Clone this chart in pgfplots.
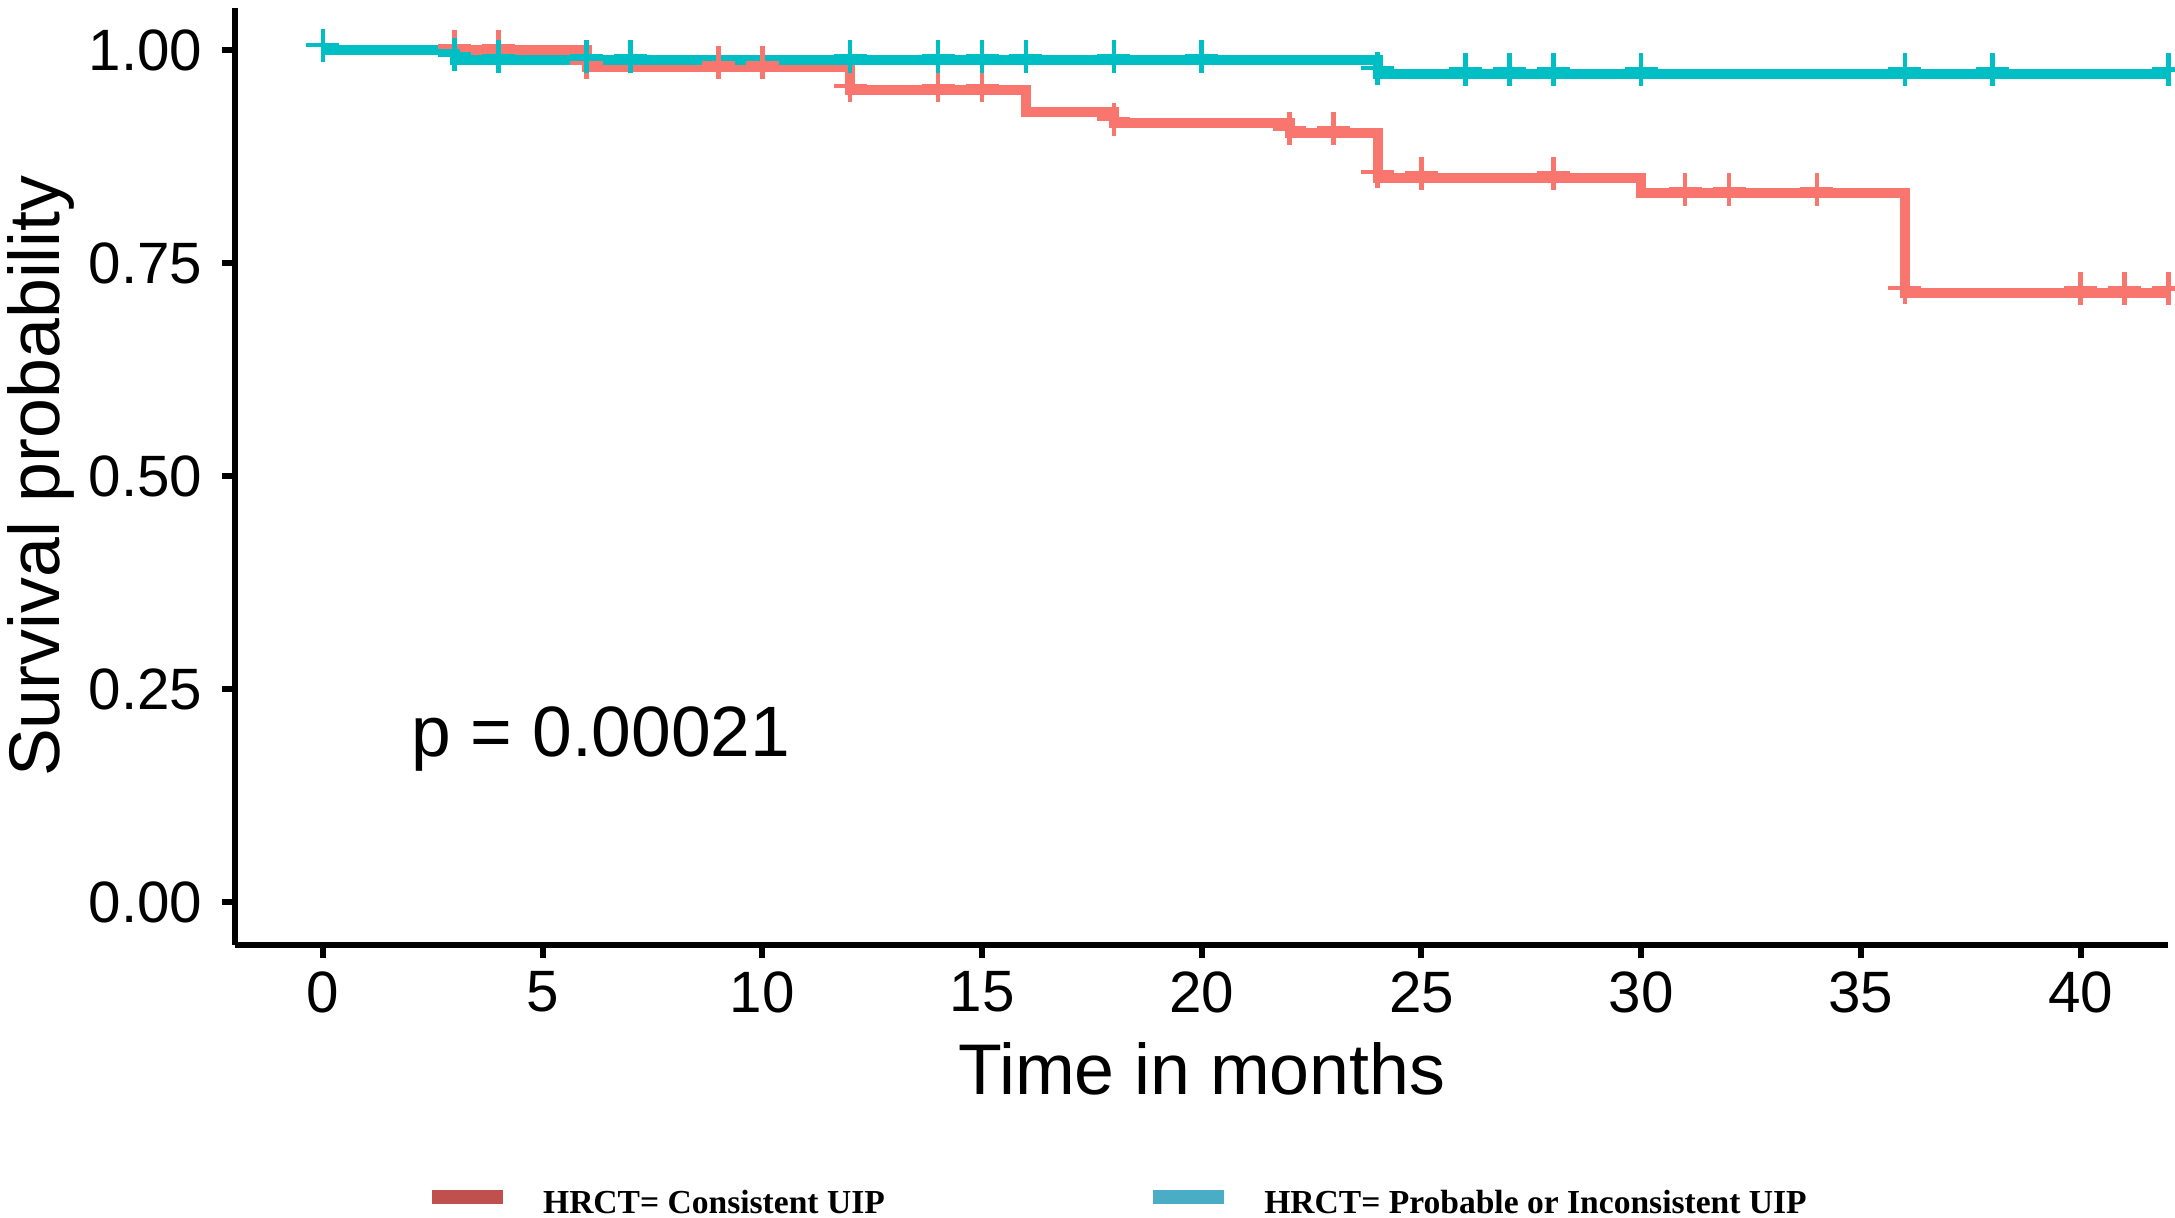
\documentclass[border=0pt]{standalone}
\usepackage{fontspec}
\setmainfont{Liberation Sans}
\newfontfamily\legendfont{Liberation Serif}
\usepackage{pgfplots}
\pgfplotsset{compat=1.18}

\definecolor{kmred}{HTML}{F8766D}
\definecolor{kmcyan}{HTML}{00BFC4}
\definecolor{keyred}{HTML}{C0504D}
\definecolor{keyblue}{HTML}{4BACC6}

\begin{document}
\begin{tikzpicture}
\begin{axis}[
    scale only axis,
    width=193.35mm, height=93.7mm,
    xmin=-2, xmax=42,
    ymin=-0.05, ymax=1.05,
    axis x line=bottom, axis y line=left,
    axis line style={-, line width=1.7pt, black},
    xtick={0,5,...,40},
    ytick={0,0.25,0.5,0.75,1},
    tick align=outside,
    major tick length=1.3mm,
    tick style={line width=1.7pt, black},
    /pgf/number format/assume math mode=true,
    yticklabel style={/pgf/number format/fixed, /pgf/number format/fixed zerofill,
        /pgf/number format/precision=2},
    ticklabel style={font=\fontsize{16.6}{20}\selectfont, inner sep=0pt},
    xticklabel style={anchor=north, yshift=-1.3mm},
    yticklabel style={anchor=east, xshift=-1.9mm},
    xlabel={Time in months},
    ylabel={Survival probability},
    label style={font=\fontsize{20.4}{24}\selectfont, inner sep=0pt},
    xlabel style={at={(axis description cs:0.5,-0.1605)}, anchor=base},
    ylabel style={at={(axis description cs:-0.1179,0.5)}, anchor=north},
    legend style={draw=none, fill=none, inner sep=0pt,
        at={(axis description cs:0.1014,-0.277)}, anchor=west,
        nodes={inner sep=0pt},
        font=\legendfont\bfseries\fontsize{9.55}{11}\selectfont,
        /tikz/every odd column/.append style={column sep=4mm},
        /tikz/every even column/.append style={column sep=26.8mm}},
    legend columns=2,
    legend cell align=left,
]

% HRCT = Consistent UIP
\addplot[kmred, line width=2.85pt, const plot, forget plot] coordinates {
    (0,1.000)(6,0.980)(12,0.953)(16,0.927)(18,0.914)(22,0.903)
    (24,0.850)(30,0.832)(36,0.715)(42,0.715)
};
\addplot[kmred, only marks, mark=+, mark size=1.65mm,
    mark options={line width=1.3pt}, forget plot] coordinates {
    (3,1.004)(4,1.004)(6,0.985)(9,0.985)(10,0.985)
    (12,0.958)(14,0.958)(15,0.958)(18,0.919)(22,0.908)(23,0.908)
    (24,0.857)(25,0.855)(28,0.855)(31,0.837)(32,0.837)(34,0.837)
    (36,0.721)(40,0.720)(41,0.720)(42,0.720)
};

% HRCT = Probable or Inconsistent UIP
\addplot[kmcyan, line width=2.85pt, const plot, forget plot] coordinates {
    (0,1.000)(3,0.988)(24,0.972)(42,0.972)
};
\addplot[kmcyan, only marks, mark=+, mark size=1.65mm,
    mark options={line width=1.3pt}, forget plot] coordinates {
    (0,1.006)(3,0.995)(4,0.993)(6,0.993)(7,0.993)(12,0.993)(14,0.993)
    (15,0.993)(16,0.993)(18,0.993)(20,0.993)
    (24,0.979)(26,0.977)(27,0.977)(28,0.977)(30,0.977)(36,0.977)
    (38,0.977)(42,0.977)
};

\addlegendimage{legend image code/.code={\fill[keyred] (0mm,0.1mm) rectangle (7mm,1.4mm);}}
\addlegendentry{HRCT= Consistent UIP}
\addlegendimage{legend image code/.code={\fill[keyblue] (0mm,0.1mm) rectangle (7mm,1.4mm);}}
\addlegendentry{HRCT= Probable or Inconsistent UIP}

\node[anchor=base west, inner sep=0pt, font=\fontsize{20.3}{24}\selectfont]
    at (axis cs:2.0,0.171) {p = 0.00021};
\end{axis}
\pgfresetboundingbox
\useasboundingbox (-23.5mm,-27.34mm) rectangle (194mm,94.46mm);
\end{tikzpicture}
\end{document}
